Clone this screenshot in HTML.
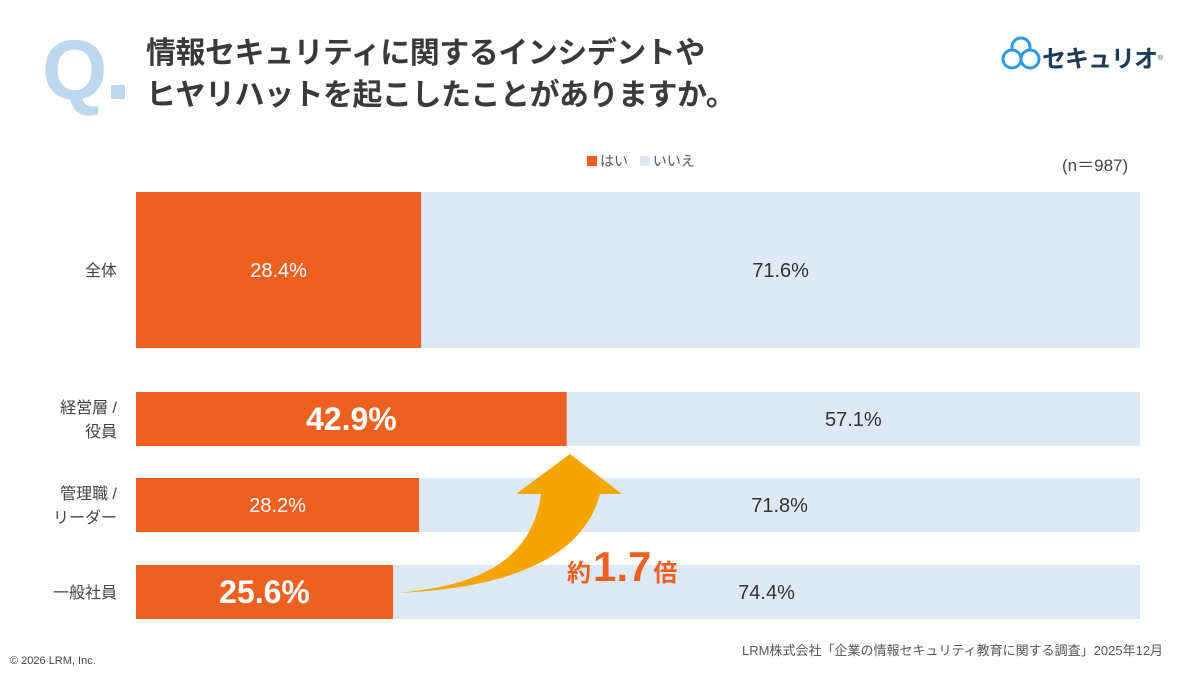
<!DOCTYPE html>
<html><head><meta charset="utf-8"><style>
body{margin:0;width:1200px;height:675px;background:#fff;font-family:"Liberation Sans","Noto Sans CJK JP",sans-serif;position:relative;overflow:hidden}
.a{position:absolute;white-space:nowrap}
</style></head><body>
<div class="a" style="left:42px;top:28px;font-size:84px;font-weight:bold;color:#bdd7ee;line-height:1">Q<span style="display:inline-block;width:14px;height:14px;background:#bdd7ee;margin-left:4px"></span></div>
<div class="a" style="left:146px;top:33px;font-size:30px;font-weight:bold;color:#3a3a3a;line-height:42px;letter-spacing:-0.5px">情報セキュリティに関するインシデントや<br>ヒヤリハットを起こしたことがありますか。</div>
<div class="a" style="left:1000px;top:35px;height:40px">
<svg width="46" height="40" style="position:absolute;left:0;top:0"><g fill="#fff" stroke="#2e9ae0" stroke-width="3"><circle cx="21" cy="12" r="9"/><circle cx="12" cy="24" r="9"/><circle cx="30" cy="24" r="9"/></g></svg>
<span class="a" style="left:42px;top:4px;font-size:24px;font-weight:bold;color:#1f3b5a;letter-spacing:-1px">セキュリオ</span><span class="a" style="left:158px;top:20px;font-size:7px;color:#1f3b5a">®</span></div>
<div class="a" style="left:587px;top:151px;font-size:14px;color:#555"><span style="display:inline-block;width:10px;height:10px;background:#ee6022;margin-right:3px"></span>はい <span style="display:inline-block;width:10px;height:10px;background:#dde9f5;margin:0 3px 0 8px"></span>いいえ</div>
<div class="a" style="left:1062px;top:151px;font-size:17px;color:#444">(n＝987)</div>
<svg class="a" style="left:0;top:0" width="1200" height="675" id="c"></svg>
<div class="a" style="left:742px;top:640px;font-size:13px;color:#555">LRM株式会社「企業の情報セキュリティ教育に関する調査」2025年12月</div>
<div class="a" style="left:10px;top:655px;font-size:11px;color:#444">© 2026 LRM, Inc.</div>
<script>
const categories=["全体","経営層 /\n役員","管理職 /\nリーダー","一般社員"];
const yesValues=[28.4,42.9,28.2,25.6];
const noValues=[71.6,57.1,71.8,74.4];
const rowTops=[192,392,478,565];
const rowHeights=[156,54,54,54];
const x0=136,W=1004;
const xs=v=>x0+W*v/100;
const svg=document.getElementById('c');
const NS='http://www.w3.org/2000/svg';
function mk(t,a){const e=document.createElementNS(NS,t);for(const k in a)e.setAttribute(k,a[k]);svg.appendChild(e);return e;}
categories.forEach((c,i)=>{
 const y=rowTops[i],h=rowHeights[i];
 const n=mk('rect',{x:xs(yesValues[i]),y:y,width:xs(yesValues[i]+noValues[i])-xs(yesValues[i]),height:h,fill:'#dde9f5'});
 
 
 const r=mk('rect',{x:x0,y:y,width:xs(yesValues[i])-x0,height:h,fill:'#ee6022'});
 
 
 const big=(i==1||i==3);
 const t=mk('text',{x:(x0+xs(yesValues[i]))/2,y:y+h/2+(big?11:7),'text-anchor':'middle',fill:'#fff','font-size':big?32:20,'font-weight':big?'bold':'normal'});
 t.textContent=yesValues[i].toFixed(1)+'%';
 
 
 const t2=mk('text',{x:(xs(yesValues[i])+xs(100))/2,y:y+h/2+7,'text-anchor':'middle',fill:'#333','font-size':20});
 t2.textContent=noValues[i].toFixed(1)+'%';
 
 
 const lines=c.split('\n');
 lines.forEach((l,j)=>{
  const lt=mk('text',{x:117,y:y+h/2+6+(j-(lines.length-1)/2)*24,'text-anchor':'end',fill:'#444','font-size':16});
  lt.textContent=l;
  
  
 });
});
const ar=mk('path',{d:'M396,593 C480,586 532,560 541,494 L516,494 L570,454 L622,494 L600,494 C585,552 520,588 396,593 Z',fill:'#f5a500'});


const g=mk('text',{x:567,y:581,fill:'#ee6022','font-weight':'bold','font-size':24});
g.innerHTML='約<tspan font-size="42" dx="2">1.7</tspan><tspan dx="2">倍</tspan>';


</script>
</body></html>
